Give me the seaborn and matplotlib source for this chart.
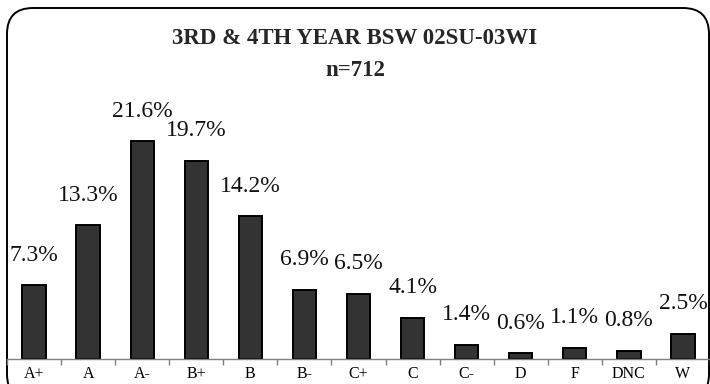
import numpy as np
import pandas as pd
import matplotlib
matplotlib.use("Agg")
import matplotlib.pyplot as plt
from matplotlib.patches import FancyBboxPatch
import seaborn as sns

# Grade distribution, percent of students
grades = ["A+", "A", "A-", "B+", "B", "B-", "C+", "C", "C-", "D", "F", "DNC", "W"]
percents = [7.3, 13.3, 21.6, 19.7, 14.2, 6.9, 6.5, 4.1, 1.4, 0.6, 1.1, 0.8, 2.5]
title = "3RD & 4TH YEAR BSW 02SU-03WI"
subtitle = "n=712"

df = pd.DataFrame({"grade": grades, "pct": percents})

sns.set_theme(style="white")
plt.rcParams["font.family"] = ["Liberation Serif", "DejaVu Serif"]

W, H = 710, 384
fig = plt.figure(figsize=(W / 100, H / 100), dpi=100)
fig.patch.set_facecolor("white")

# Rounded frame drawn in pixel units on a full-figure overlay
frame_ax = fig.add_axes([0, 0, 1, 1], zorder=0)
frame_ax.set_xlim(0, W)
frame_ax.set_ylim(H, 0)
frame_ax.axis("off")
frame_ax.add_patch(FancyBboxPatch((7, 8), 702, 392,
                                  boxstyle="round,pad=0,rounding_size=26",
                                  facecolor="white", edgecolor="black",
                                  linewidth=1.4))

base_y = 359
top_y = 100
ax = fig.add_axes([7 / W, (H - base_y) / H, (W - 7) / W, (base_y - top_y) / H], zorder=1)
ax.patch.set_alpha(0)

sns.barplot(data=df, x="grade", y="pct", order=grades, color="#333333",
            edgecolor="black", linewidth=1.4, width=0.43, saturation=1, ax=ax)

ax.set_xlim(-0.5, len(grades) - 0.5)
ax.set_ylim(0, (base_y - top_y) / 10.07)

for cont in ax.containers:
    ax.bar_label(cont, labels=[f"{v:.1f}%" for v in percents], padding=14,
                 fontsize=17, color="#111111")

ax.set_xlabel("")
ax.set_ylabel("")
ax.set_yticks([])
for s in ("left", "top", "right"):
    ax.spines[s].set_visible(False)
ax.spines["bottom"].set_color("#7f7f7f")
ax.spines["bottom"].set_linewidth(1.0)

ax.set_xticks(np.arange(-0.5, len(grades), 1), minor=True)
ax.tick_params(axis="x", which="major", length=0, pad=5, labelsize=11.5,
               labelcolor="black")
ax.tick_params(axis="x", which="minor", length=4, width=1.0, color="#7f7f7f",
               direction="out", bottom=True)

fig.text(355 / W, 1 - 39 / H, title, ha="center", va="center",
         fontsize=16.5, fontweight="bold")
fig.text(355 / W, 1 - 71 / H, subtitle, ha="center", va="center",
         fontsize=16.5, fontweight="bold")

fig.savefig("out.png", dpi=100, facecolor="white")
